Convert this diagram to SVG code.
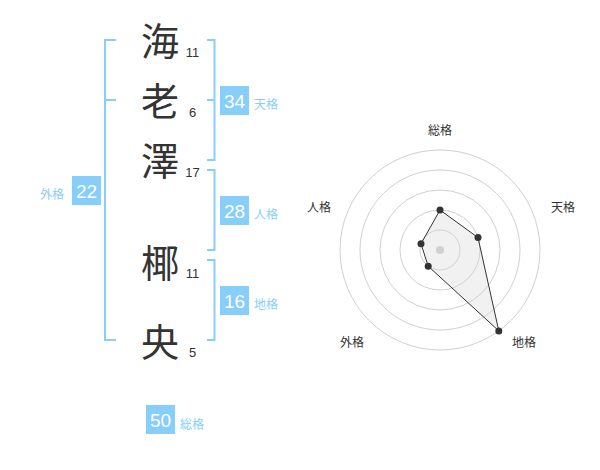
<svg xmlns="http://www.w3.org/2000/svg" width="600" height="470" viewBox="0 0 600 470">
<style>
.ch{font-family:"Noto Sans CJK JP","Noto Sans CJK SC",sans-serif;font-size:38px;fill:#333;text-anchor:middle}
.num{font-family:"Liberation Sans",Arial,sans-serif;font-size:13px;fill:#333;text-anchor:middle}
.br{fill:none;stroke:#87cefa;stroke-width:2}
.box{fill:#87cefa}
.bt{font-family:"Liberation Sans",Arial,sans-serif;font-size:19px;fill:#fff;text-anchor:middle}
.lb{font-family:"Noto Sans CJK JP","Noto Sans CJK SC",sans-serif;font-size:12px;fill:#87cefa}
.rl{font-family:"Noto Sans CJK JP","Noto Sans CJK SC",sans-serif;font-size:12px;fill:#333;text-anchor:middle}
.ring{fill:none;stroke:#d0d0d0;stroke-width:1}
.pt{fill:#333}
</style>
<rect width="600" height="470" fill="#fff"/>
<g id="name">
<g id="c1"><text class="ch" x="160" y="55">海</text><text class="num" x="192.5" y="57">11</text></g>
<g id="c2"><text class="ch" x="160" y="115">老</text><text class="num" x="192.5" y="117">6</text></g>
<g id="c3"><text class="ch" x="160" y="175">澤</text><text class="num" x="192.5" y="177">17</text></g>
<g id="c4"><text class="ch" x="160" y="277">椰</text><text class="num" x="192.5" y="278">11</text></g>
<g id="c5"><text class="ch" x="160" y="356">央</text><text class="num" x="192.5" y="357">5</text></g>
</g>
<g id="connectors">
<path class="br" d="M116,40 H105 V340 H116 M105,100 H116"/>
<path class="br" d="M207,40 H214.5 V160 H207 M207,100 H214.5"/>
<path class="br" d="M207,170 H214.5 V250 H207"/>
<path class="br" d="M207,260 H214.5 V340 H207"/>
</g>
<g id="tenkaku"><rect class="box" x="220" y="86" width="29" height="29"/><text class="bt" x="234.5" y="107.5">34</text><text class="lb" x="254" y="109">天格</text></g>
<g id="jinkaku"><rect class="box" x="220" y="196" width="29" height="29"/><text class="bt" x="234.5" y="217.5">28</text><text class="lb" x="254" y="219">人格</text></g>
<g id="chikaku"><rect class="box" x="220" y="286" width="29" height="29"/><text class="bt" x="234.5" y="307.5">16</text><text class="lb" x="254" y="309">地格</text></g>
<g id="gaikaku"><rect class="box" x="72" y="176" width="29" height="29"/><text class="bt" x="86.5" y="197.5">22</text><text class="lb" x="40" y="199">外格</text></g>
<g id="soukaku"><rect class="box" x="146" y="405" width="29" height="29"/><text class="bt" x="160.5" y="426.5">50</text><text class="lb" x="180" y="429">総格</text></g>
<g id="radar">
<circle class="ring" cx="440" cy="250" r="20"/>
<circle class="ring" cx="440" cy="250" r="40"/>
<circle class="ring" cx="440" cy="250" r="60"/>
<circle class="ring" cx="440" cy="250" r="80"/>
<circle class="ring" cx="440" cy="250" r="100"/>
<circle cx="440" cy="250" r="4" fill="#ccc"/>
<polygon points="440,210 478,237.6 498.8,330.9 428.2,266.2 421,243.8" fill="#d8d8d8" fill-opacity="0.35" stroke="#333" stroke-width="1"/>
<circle class="pt" cx="440" cy="210" r="3.5"/>
<circle class="pt" cx="478" cy="237.6" r="3.5"/>
<circle class="pt" cx="498.8" cy="330.9" r="3.5"/>
<circle class="pt" cx="428.2" cy="266.2" r="3.5"/>
<circle class="pt" cx="421" cy="243.8" r="3.5"/>
<text class="rl" x="440" y="135">総格</text>
<text class="rl" x="563" y="212">天格</text>
<text class="rl" x="524" y="347">地格</text>
<text class="rl" x="352" y="347">外格</text>
<text class="rl" x="319" y="212">人格</text>
</g>
</svg>
